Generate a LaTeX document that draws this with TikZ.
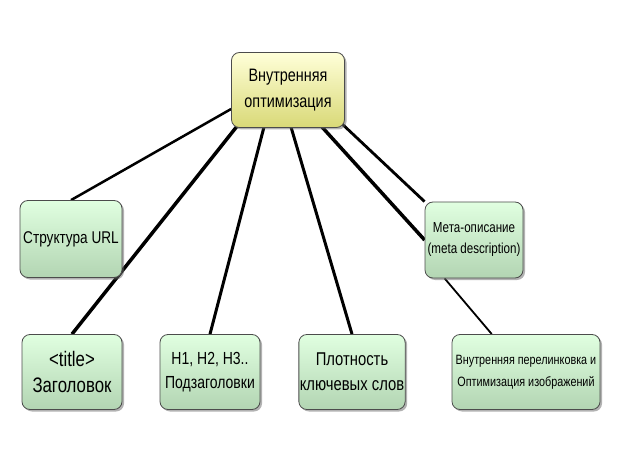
\documentclass[tikz,border=0pt]{standalone}
\usepackage{fontspec}
\setmainfont{Liberation Sans}[FakeStretch=0.8]
\usetikzlibrary{shadows,calc}
\pgfdeclarelayer{background}
\pgfsetlayers{background,main}
\begin{document}
\begin{tikzpicture}[x=1pt,y=-1pt,
  box/.style={draw=black!70,line width=0.8pt,rounded corners=8pt,align=center,inner sep=1pt,
    top color=green!12!white,bottom color=green!45!black!30!white,
    drop shadow={shadow xshift=2pt,shadow yshift=-2pt,fill=black!60},font=\fontsize{17}{22}\selectfont},
  main/.style={box,top color=yellow!15!white,bottom color=yellow!45!white!85!black,font=\fontsize{18}{26}\selectfont},
  ln/.style={line width=3pt,black}]
\useasboundingbox (0,0) rectangle (620,470);
\node[main,minimum width=113pt,minimum height=75pt] (c) at (288,90) {Внутренняя\\оптимизация};
\node[box,minimum width=102pt,minimum height=77pt] (url) at (71,239) {Структура URL};
\node[box,minimum width=98pt,minimum height=76pt,font=\fontsize{14.5}{21}\selectfont] (meta) at (474,240) {Мета-описание\\(meta description)};
\node[box,minimum width=100pt,minimum height=75pt,font=\fontsize{21}{26}\selectfont] (t) at (72,372) {<title>\\Заголовок};
\node[box,minimum width=100pt,minimum height=75pt,font=\fontsize{17.5}{24}\selectfont] (h) at (210,372) {H1, H2, H3..\\Подзаголовки};
\node[box,minimum width=103pt,minimum height=75pt,font=\fontsize{18.5}{25}\selectfont] (p) at (352,372) {Плотность\\ключевых слов};
\node[box,minimum width=148pt,minimum height=75pt,font=\fontsize{13.5}{22}\selectfont] (v) at (526,372) {Внутренняя перелинковка и\\Оптимизация изображений};
\begin{pgfonlayer}{background}
\draw[ln,line width=2.5pt] (c.west |- 0,109) -- (url.north);
\draw[ln,line width=3.5pt] (238,125) -- (t.north);
\draw[ln] (264,127) -- (h.north);
\draw[ln] (291,127) -- (p.north);
\draw[ln,line width=3.5pt] (322,127) -- (meta.west);
\draw[ln,line width=1.8pt] (meta.south west) ++(20,0) -- ($(v.north west)!0.27!(v.north east)$);
\draw[ln,line width=2.8pt] (340,122) -- (meta.north west);
\end{pgfonlayer}
\end{tikzpicture}
\end{document}
